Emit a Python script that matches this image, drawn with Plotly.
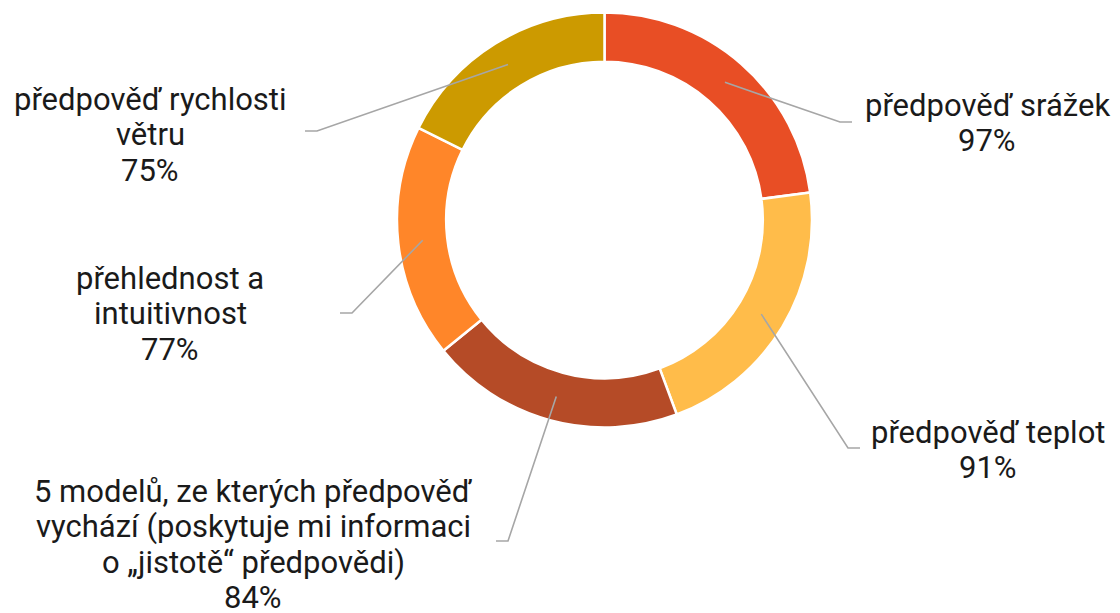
import math
import plotly.graph_objects as go

# ---- data ----
label_lines = [
    ["předpověď srážek"],
    ["předpověď teplot"],
    ["5 modelů, ze kterých předpověď", "vychází (poskytuje mi informaci", "o „jistotě“ předpovědi)"],
    ["přehlednost a", "intuitivnost"],
    ["předpověď rychlosti", "větru"],
]
values = [97, 91, 84, 77, 75]
colors = ["#E84E25", "#FFBC4A", "#B54B27", "#FF8629", "#CC9A00"]

# ---- layout (pixels, page coordinates) ----
W, H = 1120, 613
OFF = 8  # default page body margin
cx, cy, R = 604.5, 220, 207.5
hole = 0.763
# label centre x and first line centre y, line spacing
label_pos = [(987, 105), (988, 432), (253, 491), (170, 278), (150, 99)]
LINE = 35.6
elbow_pos = [((840, 122), (852, 122)),
             ((848, 448), (860, 448)),
             ((508, 541), (496, 541)),
             ((352, 313), (340, 313)),
             ((317, 131), (305, 131))]


def px(x):
    return (x - OFF) / W


def py(y):
    return 1 - (y - OFF) / H


fig = go.Figure(go.Pie(
    values=values,
    labels=[" ".join(l) for l in label_lines],
    sort=False,
    direction="clockwise",
    rotation=0,
    hole=hole,
    textinfo="none",
    hoverinfo="label+value",
    marker=dict(colors=colors, line=dict(color="white", width=2.5)),
    domain=dict(x=[px(cx - R), px(cx + R)], y=[py(cy + R), py(cy - R)]),
    showlegend=False,
))

total = sum(values)
annotations = []
shapes = []
cum = 0
rmid = R * (1 + hole) / 2
for i, v in enumerate(values):
    mid = (cum + v / 2) / total * 2 * math.pi
    cum += v
    sx = cx + rmid * math.sin(mid)
    sy = cy - rmid * math.cos(mid)
    (ex, ey), (fx, fy) = elbow_pos[i]
    shapes.append(dict(
        type="path", xref="paper", yref="paper",
        path=f"M {px(sx)},{py(sy)} L {px(ex)},{py(ey)} L {px(fx)},{py(fy)}",
        line=dict(color="#A6A6A6", width=1.6),
    ))
    lx, ly = label_pos[i]
    lines = label_lines[i] + [f"{v}%"]
    for k, t in enumerate(lines):
        annotations.append(dict(
            x=px(lx), y=py(ly + k * LINE), xref="paper", yref="paper",
            xanchor="center", yanchor="middle", align="center",
            text=t, showarrow=False,
            font=dict(family="Roboto", size=31, color="#1A1A1A"),
        ))

fig.update_layout(
    width=W, height=H,
    margin=dict(l=0, r=0, t=0, b=0),
    paper_bgcolor="white", plot_bgcolor="white",
    annotations=annotations, shapes=shapes,
)

fig.write_html("out.html")
